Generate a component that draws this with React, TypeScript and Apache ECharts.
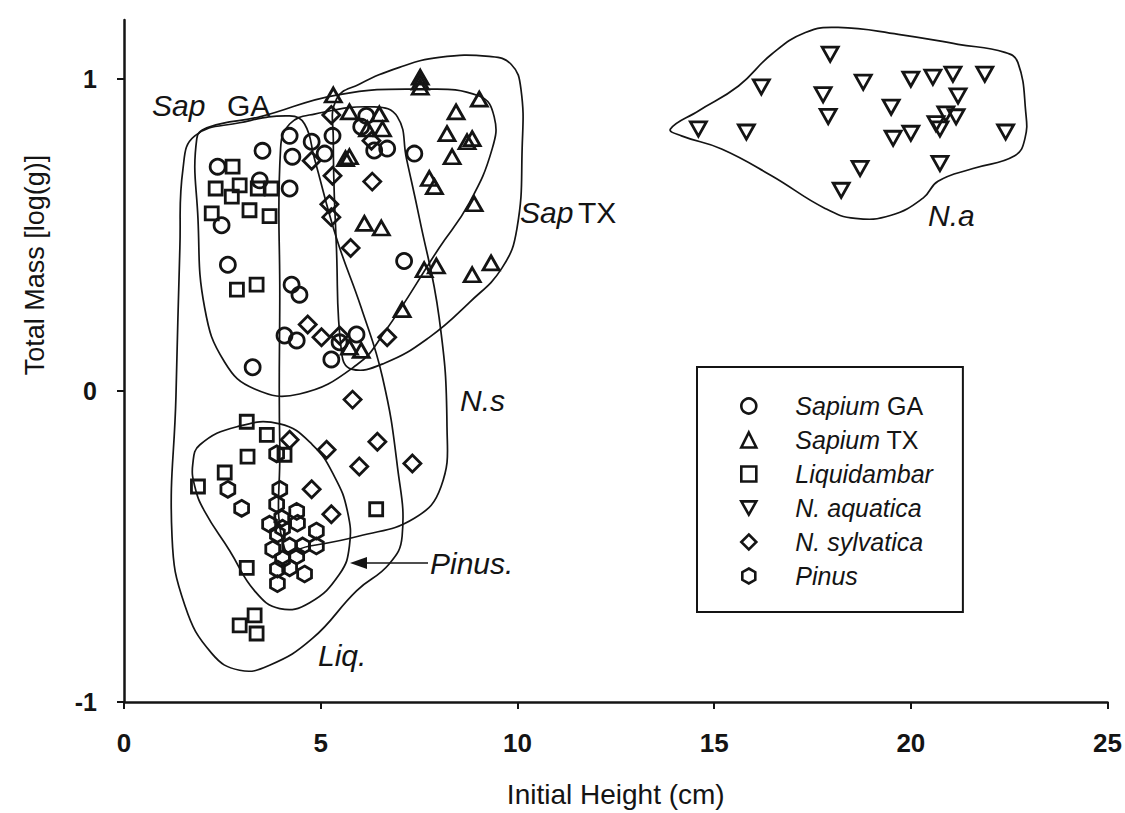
import { useEffect, useRef } from 'react';
import * as echarts from 'echarts';

const FONT = 'Liberation Sans, Arial, sans-serif';

const X_TICKS = [0, 5, 10, 15, 20, 25];
const Y_TICKS = [-1, 0, 1];

const SERIES_NAMES = ['Sapium GA', 'Sapium TX', 'Liquidambar', 'N. aquatica', 'N. sylvatica', 'Pinus'];

const SAPIUM_GA: [number, number][] = [
  [2.38, 0.719], [3.52, 0.77], [4.21, 0.818], [4.77, 0.799], [5.3, 0.818], [4.28, 0.751],
  [3.45, 0.675], [4.21, 0.649], [2.48, 0.531], [2.64, 0.404], [4.26, 0.34], [4.46, 0.308],
  [4.08, 0.177], [4.39, 0.161], [3.27, 0.075], [5.27, 0.1], [5.91, 0.18], [5.1, 0.761],
  [6.16, 0.882], [6.36, 0.771], [6.69, 0.777], [7.38, 0.761], [7.12, 0.416], [6.03, 0.847],
  [5.48, 0.155],
];

const SAPIUM_TX: [number, number][] = [
  [5.73, 0.895], [6.49, 0.888], [6.19, 0.84], [6.57, 0.84], [5.73, 0.751], [5.63, 0.745],
  [7.53, 1.006], [7.53, 0.99], [7.53, 0.974], [9.03, 0.936], [8.44, 0.895], [8.21, 0.825],
  [8.85, 0.809], [8.72, 0.799], [8.34, 0.751], [7.76, 0.681], [7.89, 0.655], [8.9, 0.6],
  [6.11, 0.537], [6.54, 0.522], [7.63, 0.388], [7.94, 0.4], [8.85, 0.372], [9.33, 0.41],
  [7.07, 0.26], [6.03, 0.129], [5.73, 0.139], [5.32, 0.949],
];

const LIQUIDAMBAR: [number, number][] = [
  [2.76, 0.719], [2.33, 0.649], [2.94, 0.659], [3.4, 0.649], [3.75, 0.649], [2.74, 0.623],
  [2.23, 0.569], [3.19, 0.579], [3.7, 0.56], [2.87, 0.324], [3.37, 0.34], [3.12, -0.1],
  [3.63, -0.142], [3.14, -0.212], [2.56, -0.263], [1.88, -0.308], [4.08, -0.206],
  [6.41, -0.381], [3.12, -0.569], [2.94, -0.754], [3.32, -0.722], [3.37, -0.78],
];

const N_AQUATICA: [number, number][] = [
  [17.95, 1.08], [16.2, 0.975], [14.6, 0.84], [15.82, 0.83], [17.77, 0.95], [17.9, 0.88],
  [18.79, 0.99], [19.5, 0.91], [20.0, 1.0], [20.56, 1.006], [21.07, 1.016], [21.88, 1.016],
  [21.2, 0.946], [19.55, 0.81], [20.0, 0.826], [20.64, 0.857], [20.74, 0.84], [20.89, 0.888],
  [21.15, 0.879], [22.41, 0.83], [20.74, 0.729], [18.71, 0.713], [18.23, 0.643],
];

const N_SYLVATICA: [number, number][] = [
  [5.27, 0.885], [4.77, 0.738], [5.3, 0.69], [6.31, 0.671], [5.22, 0.598], [5.27, 0.557],
  [6.29, 0.802], [5.76, 0.458], [4.67, 0.212], [5.02, 0.171], [6.69, 0.171], [5.48, 0.177],
  [5.81, -0.029], [6.44, -0.164], [5.15, -0.19], [5.98, -0.244], [7.33, -0.234],
  [4.77, -0.317], [5.27, -0.397], [4.21, -0.158],
];

const PINUS: [number, number][] = [
  [2.64, -0.317], [2.99, -0.378], [3.96, -0.317], [3.88, -0.365], [4.39, -0.388], [4.01, -0.41],
  [3.7, -0.429], [4.41, -0.426], [4.89, -0.451], [3.9, -0.461], [3.78, -0.509], [4.21, -0.499],
  [4.54, -0.499], [4.89, -0.499], [4.03, -0.541], [4.39, -0.531], [3.9, -0.573], [4.21, -0.569],
  [4.59, -0.589], [3.9, -0.62], [4.03, -0.442], [3.88, -0.203],
];

// Hand-drawn group envelopes (data units)
const ENV_SAP_GA: [number, number][] = [
  [1.85, 0.809], [2.18, 0.847], [3.45, 0.879], [5.4, 0.949], [7.51, 0.968], [9.03, 0.946],
  [9.41, 0.879], [9.36, 0.777], [8.77, 0.601], [8.01, 0.458], [6.62, 0.187], [5.91, 0.082],
  [4.46, -0.011], [3.32, 0.005], [2.56, 0.091], [2.05, 0.266], [1.88, 0.553],
];
const ENV_SAP_TX: [number, number][] = [
  [5.4, 0.936], [5.98, 0.984], [7.0, 1.038], [8.01, 1.07], [9.28, 1.073], [9.84, 1.048],
  [10.09, 0.968], [10.12, 0.777], [9.99, 0.522], [9.61, 0.394], [8.77, 0.282], [7.76, 0.171],
  [6.62, 0.088], [5.78, 0.069], [5.53, 0.123], [5.4, 0.458], [5.32, 0.809],
];
const ENV_NS: [number, number][] = [
  [3.98, 0.777], [4.21, 0.856], [4.84, 0.888], [6.36, 0.911], [6.95, 0.879], [7.18, 0.745],
  [7.51, 0.553], [8.01, 0.234], [8.21, -0.116], [8.06, -0.308], [7.38, -0.41], [5.98, -0.467],
  [4.72, -0.499], [4.08, -0.506], [3.96, -0.18], [3.96, 0.298],
];
const ENV_LIQ: [number, number][] = [
  [1.8, 0.818], [2.94, 0.86], [4.21, 0.882], [4.59, 0.856], [4.84, 0.745], [5.4, 0.49],
  [6.03, 0.266], [6.57, 0.043], [6.95, -0.244], [7.07, -0.467], [6.74, -0.557], [5.91, -0.643],
  [4.79, -0.796], [3.7, -0.882], [2.94, -0.898], [2.23, -0.844], [1.55, -0.691], [1.22, -0.467],
  [1.32, -0.021], [1.42, 0.458], [1.5, 0.713],
];
const ENV_PINUS: [number, number][] = [
  [1.75, -0.234], [1.93, -0.174], [2.87, -0.116], [3.96, -0.107], [4.79, -0.174], [5.35, -0.276],
  [5.68, -0.388], [5.73, -0.499], [5.48, -0.589], [4.72, -0.681], [3.96, -0.7], [3.32, -0.643],
  [2.69, -0.515], [2.05, -0.388], [1.8, -0.308],
];
const ENV_NA: [number, number][] = [
  [13.89, 0.84], [14.6, 0.898], [15.62, 0.978], [16.46, 1.08], [17.32, 1.15], [18.15, 1.166],
  [19.68, 1.144], [21.2, 1.112], [22.39, 1.086], [22.72, 1.054], [22.92, 0.895], [22.9, 0.809],
  [22.64, 0.754], [21.58, 0.713], [20.69, 0.672], [20.31, 0.618], [19.5, 0.563], [18.59, 0.553],
  [17.82, 0.585], [16.46, 0.69], [15.19, 0.776], [14.17, 0.818],
];
const ENVELOPES = [ENV_SAP_GA, ENV_SAP_TX, ENV_NS, ENV_LIQ, ENV_PINUS, ENV_NA];

const HEXAGON = 'path://M8,0 L16,4.6 L16,13.9 L8,18.5 L0,13.9 L0,4.6 Z';
const DOWN_TRI = 'path://M0,0 L18,0 L9,16 Z';

const LEGEND_TEXT: Record<string, string> = {
  'Sapium GA': '{i|Sapium} GA',
  'Sapium TX': '{i|Sapium} TX',
  'Liquidambar': '{i|Liquidambar}',
  'N. aquatica': '{i|N. aquatica}',
  'N. sylvatica': '{i|N. sylvatica}',
  'Pinus': '{i|Pinus}',
};

const INK = '#141414';

function scatter(name: string, data: [number, number][], symbol: string, size: number | number[]) {
  return {
    type: 'scatter',
    name,
    data,
    symbol,
    symbolSize: size,
    symbolKeepAspect: true,
    z: 3,
    itemStyle: { color: 'rgba(255,255,255,0)', borderColor: INK, borderWidth: 2.8, opacity: 1 },
  };
}

export default function App() {
  const ref = useRef<HTMLDivElement>(null);
  useEffect(() => {
    if (!ref.current) return;
    const chart = echarts.init(ref.current, undefined, { renderer: 'svg' });
    const annText = (text: string, x: number, y: number, italic: boolean, size = 30) => ({
      type: 'text',
      x,
      y,
      z: 10,
      style: {
        text,
        fill: INK,
        fontSize: size,
        fontFamily: FONT,
        fontStyle: italic ? 'italic' : 'normal',
        align: 'left',
        verticalAlign: 'middle',
      },
    });
    chart.setOption({
      animation: false,
      backgroundColor: '#ffffff',
      grid: { left: 124, right: 15, top: 20, bottom: 106, containLabel: false },
      xAxis: {
        type: 'value',
        min: X_TICKS[0],
        max: X_TICKS[X_TICKS.length - 1],
        interval: 5,
        name: 'Initial Height (cm)',
        nameLocation: 'middle',
        nameGap: 78,
        nameTextStyle: { fontFamily: FONT, fontSize: 28, color: INK },
        axisLine: { onZero: false, lineStyle: { color: INK, width: 2.5 } },
        axisTick: { show: true, inside: false, length: 7, lineStyle: { color: INK, width: 2 } },
        axisLabel: { margin: 28, fontFamily: FONT, fontSize: 26, fontWeight: 'bold', color: INK },
        splitLine: { show: false },
      },
      yAxis: {
        type: 'value',
        min: -1,
        max: 1.19,
        axisLine: { onZero: false, lineStyle: { color: INK, width: 2.5 } },
        axisTick: { show: true, inside: false, length: 7, customValues: Y_TICKS, lineStyle: { color: INK, width: 2 } },
        axisLabel: { margin: 27, customValues: Y_TICKS, fontFamily: FONT, fontSize: 25, fontWeight: 'bold', color: INK },
        splitLine: { show: false },
      },
      legend: {
        orient: 'vertical',
        left: 697,
        top: 367,
        data: SERIES_NAMES,
        padding: [26, 30, 23, 43],
        itemGap: 8,
        itemWidth: 15,
        itemHeight: 15,
        borderColor: INK,
        borderWidth: 2,
        backgroundColor: '#fff',
        selectedMode: false,
        itemStyle: { borderWidth: 2.6 },
        formatter: (name: string) => '{s| }' + LEGEND_TEXT[name],
        textStyle: {
          fontFamily: FONT,
          fontSize: 25,
          color: INK,
          lineHeight: 26,
          rich: {
            s: { width: 34 },
            i: { fontFamily: FONT, fontSize: 25, fontStyle: 'italic', color: INK, lineHeight: 26 },
          },
        },
      },
      graphic: [
        {
          type: 'text',
          x: 35,
          y: 265,
          rotation: Math.PI / 2,
          z: 10,
          style: {
            text: 'Total Mass [log(g)]',
            fill: INK,
            fontSize: 27,
            fontFamily: FONT,
            align: 'center',
            verticalAlign: 'middle',
          },
        },
        annText('Sap', 152, 105, true),
        annText('GA', 227, 105, false),
        annText('Sap', 520, 212, true),
        annText('TX', 578, 212, false),
        annText('N.s', 460, 400, true),
        annText('N.a', 928, 215, true),
        annText('Liq.', 318, 655, true),
        annText('Pinus.', 430, 563, true),
        {
          type: 'line',
          z: 10,
          shape: { x1: 428, y1: 563, x2: 362, y2: 563 },
          style: { stroke: INK, lineWidth: 1.6 },
        },
        {
          type: 'polygon',
          z: 10,
          shape: { points: [[350, 563], [367, 557], [367, 569]] },
          style: { fill: INK },
        },
      ],
      series: [
        {
          type: 'custom',
          name: 'envelopes',
          coordinateSystem: 'cartesian2d',
          silent: true,
          z: 1,
          data: ENVELOPES.map((_, i) => [i, 0]),
          encode: { x: 0, y: 1 },
          renderItem: (params: any, api: any) => {
            const pts = ENVELOPES[params.dataIndex].map((p) => api.coord(p));
            return {
              type: 'polygon',
              shape: { points: pts, smooth: 0.45 },
              style: { fill: 'none', stroke: INK, lineWidth: 1.7 },
            };
          },
        },
        scatter('Sapium GA', SAPIUM_GA, 'circle', 15),
        scatter('Sapium TX', SAPIUM_TX, 'triangle', [16, 14]),
        scatter('Liquidambar', LIQUIDAMBAR, 'rect', 13),
        scatter('N. aquatica', N_AQUATICA, DOWN_TRI, 16),
        scatter('N. sylvatica', N_SYLVATICA, 'diamond', 17),
        scatter('Pinus', PINUS, HEXAGON, 16),
      ],
    });
    return () => chart.dispose();
  }, []);
  return (
    <div
      ref={ref}
      style={{ position: 'fixed', left: 0, top: 0, width: 1125, height: 813, background: '#fff' }}
    />
  );
}
